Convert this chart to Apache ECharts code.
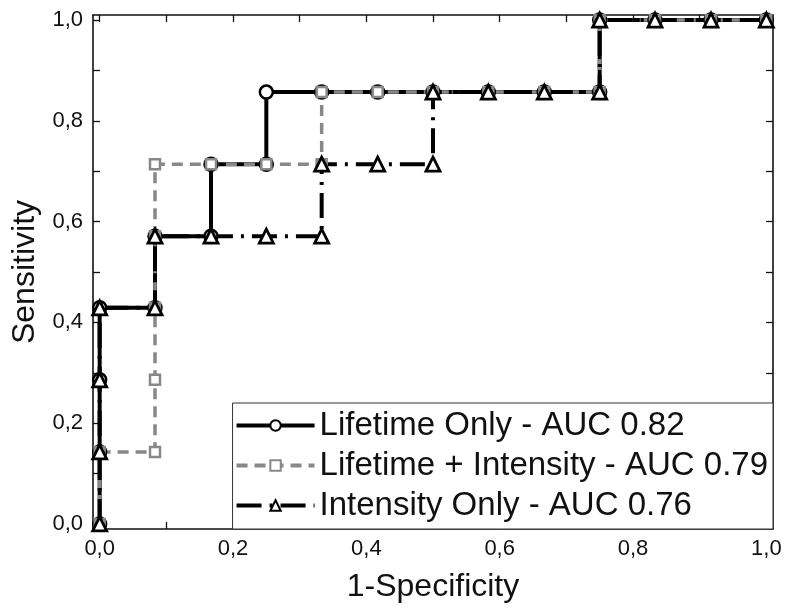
<!DOCTYPE html>
<html>
<head>
<meta charset="utf-8">
<script src="https://cdn.jsdelivr.net/npm/echarts@6/dist/echarts.min.js"></script>
<style>
  html, body { margin: 0; padding: 0; background: #fff; }
  #chart { width: 788px; height: 616px; }
</style>
</head>
<body>
<div id="chart"></div>
<script>
const font = 'Liberation Sans, Arial, sans-serif'

// tick positions (both axes share them)
const minorTicks = [0, 0.1, 0.2, 0.3, 0.4, 0.5, 0.6, 0.7, 0.8, 0.9, 1]
const tickLabels = [0, 0.2, 0.4, 0.6, 0.8, 1]

// ROC points, 1-specificity / sensitivity
const lifetimeX = [0, 0, 0, 0, 0.083, 0.083, 0.167, 0.167, 0.25, 0.25, 0.333, 0.417, 0.5, 0.583, 0.667, 0.75, 0.75, 0.833, 0.917, 1]
const lifetimeY = [0, 0.143, 0.286, 0.429, 0.429, 0.571, 0.571, 0.714, 0.714, 0.857, 0.857, 0.857, 0.857, 0.857, 0.857, 0.857, 1, 1, 1, 1]

const comboX = [0, 0, 0.083, 0.083, 0.083, 0.083, 0.083, 0.167, 0.25, 0.333, 0.333, 0.417, 0.5, 0.583, 0.667, 0.75, 0.75, 0.833, 0.917, 1]
const comboY = [0, 0.143, 0.143, 0.286, 0.429, 0.571, 0.714, 0.714, 0.714, 0.714, 0.857, 0.857, 0.857, 0.857, 0.857, 0.857, 1, 1, 1, 1]

const intensityX = [0, 0, 0, 0, 0.083, 0.083, 0.167, 0.25, 0.333, 0.333, 0.417, 0.5, 0.5, 0.583, 0.667, 0.75, 0.75, 0.833, 0.917, 1]
const intensityY = [0, 0.143, 0.286, 0.429, 0.429, 0.571, 0.571, 0.571, 0.571, 0.714, 0.714, 0.714, 0.857, 0.857, 0.857, 0.857, 1, 1, 1, 1]

const names = [
  'Lifetime Only - AUC 0.82',
  'Lifetime + Intensity - AUC 0.79',
  'Intensity Only - AUC 0.76'
]

const zip = (xs, ys) => xs.map((x, i) => [x, ys[i]])
const fmt = v => v.toFixed(1).replace('.', ',')

const axis = (position, extra) => Object.assign({
  type: 'value',
  position,
  min: -0.01,
  max: 1.01,
  splitLine: { show: false },
  axisLine: { show: true, onZero: false, lineStyle: { color: '#111', width: 1.6 } },
  axisTick: { show: true, inside: true, length: 7, customValues: minorTicks, lineStyle: { color: '#111', width: 1.3 } },
  axisLabel: { show: false }
}, extra)

const labels = margin => ({
  show: true,
  customValues: tickLabels,
  formatter: fmt,
  margin,
  fontSize: 22,
  color: '#111',
  fontFamily: font
})

const chart = echarts.init(document.getElementById('chart'), null, { renderer: 'canvas' })

chart.setOption({
  animation: false,
  backgroundColor: '#fff',
  grid: { left: 93, right: 15, top: 15, bottom: 87 },
  xAxis: [
    axis('bottom', {
      name: '1-Specificity',
      nameLocation: 'middle',
      nameGap: 42,
      nameTextStyle: { fontSize: 32, color: '#111', fontFamily: font },
      axisLabel: labels(9)
    }),
    axis('top', {})
  ],
  yAxis: [
    axis('left', {
      name: 'Sensitivity',
      nameLocation: 'middle',
      nameGap: 50,
      nameRotate: 90,
      nameTextStyle: { fontSize: 32, color: '#111', fontFamily: font },
      axisLabel: labels(10)
    }),
    axis('right', {})
  ],
  legend: {
    orient: 'vertical',
    right: 15,
    bottom: 87,
    align: 'left',
    itemWidth: 78,
    itemHeight: 13,
    itemGap: 7,
    padding: [6, 5, 7, 2],
    backgroundColor: '#fff',
    borderColor: '#333',
    borderWidth: 1,
    lineStyle: { width: 4 },
    itemStyle: { borderWidth: 2 },
    textStyle: { fontSize: 33, color: '#111', fontFamily: font },
    data: names
  },
  series: [
    {
      name: names[0],
      type: 'line',
      data: zip(lifetimeX, lifetimeY),
      symbol: 'circle',
      symbolSize: 13,
      clip: false,
      itemStyle: { color: '#fff', borderColor: '#000', borderWidth: 2.5 },
      lineStyle: { color: '#000', width: 4, type: 'solid' }
    },
    {
      name: names[1],
      type: 'line',
      data: zip(comboX, comboY),
      symbol: 'rect',
      symbolSize: 10,
      clip: false,
      itemStyle: { color: '#fff', borderColor: '#888', borderWidth: 2.5 },
      lineStyle: { color: '#888', width: 3.5, type: [11, 7] }
    },
    {
      name: names[2],
      type: 'line',
      data: zip(intensityX, intensityY),
      symbol: 'triangle',
      symbolSize: 14,
      clip: false,
      itemStyle: { color: '#fff', borderColor: '#000', borderWidth: 2.8 },
      lineStyle: { color: '#000', width: 4, type: [25, 8, 3, 8] }
    }
  ]
})
</script>
</body>
</html>
